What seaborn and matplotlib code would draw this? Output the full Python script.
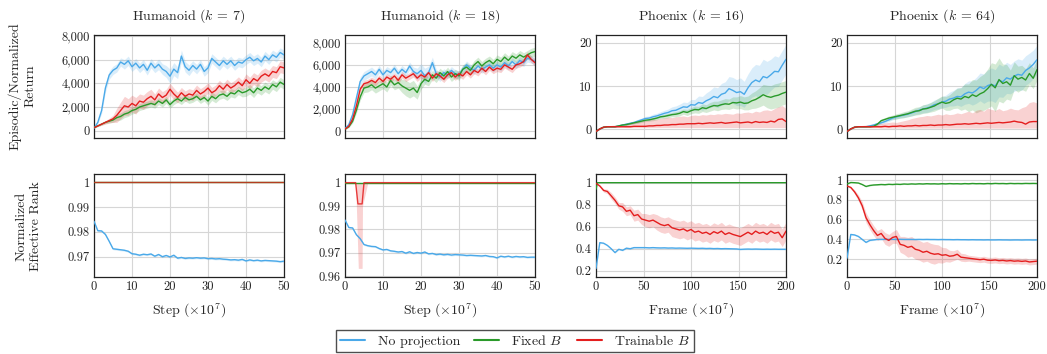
import numpy as np
import pandas as pd
import matplotlib
matplotlib.use("Agg")
import matplotlib.pyplot as plt
import seaborn as sns
from matplotlib.lines import Line2D
from matplotlib.ticker import FuncFormatter

# x grids (x 10^7)
steps = list(range(0, 51))
frames = list(range(0, 201, 4))

# ---------------- Humanoid (k = 7), episodic return ----------------
hk7_ret_none = [200, 700, 1700, 3600, 4700, 5100, 5300, 5800, 5600, 5900, 5400, 5700, 5300, 5600, 5100,
                5700, 5300, 5600, 5200, 5000, 4600, 5200, 4900, 6300, 5400, 5100, 5500, 5200, 5600, 5000,
                5300, 6100, 5800, 5500, 5900, 5600, 5900, 5500, 5800, 5700, 6000, 6200, 5900, 6100, 5800,
                6300, 6000, 6400, 6200, 6600, 6400]
hk7_ret_none_sd = [50, 100, 250, 350, 350, 350, 350, 350, 400, 400, 400, 400, 400, 400, 400, 400, 400,
                   450, 450, 500, 600, 550, 500, 500, 450, 450, 400, 400, 400, 400, 400, 400, 400, 400,
                   400, 400, 400, 400, 400, 400, 400, 400, 400, 400, 400, 400, 400, 400, 400, 400, 400]
hk7_ret_fixed = [250, 400, 550, 700, 800, 900, 1100, 1200, 1400, 1500, 1700, 1800, 2000, 2100, 2200,
                 2300, 2200, 2500, 2300, 2600, 2200, 2500, 2700, 2500, 2800, 2600, 2700, 2900, 2600, 2800,
                 2500, 2900, 2700, 3000, 3100, 2900, 3200, 3100, 3400, 3200, 3300, 3500, 3200, 3600, 3400,
                 3700, 3500, 3900, 3700, 4100, 3900]
hk7_ret_fixed_sd = [30, 50, 80, 100, 150, 200, 250, 300, 300, 300, 300, 300, 300, 300, 300, 300, 300,
                    300, 300, 300, 300, 300, 300, 300, 300, 300, 300, 300, 300, 300, 350, 350, 350, 350,
                    350, 350, 350, 350, 350, 350, 400, 400, 400, 400, 400, 400, 400, 400, 400, 400, 400]
hk7_ret_train = [250, 400, 550, 700, 850, 1000, 1300, 1700, 2100, 2000, 2300, 2100, 2500, 2400, 2700,
                 2900, 2600, 3100, 2800, 3000, 3500, 3100, 2800, 3200, 2900, 3100, 3000, 3400, 3100, 3300,
                 3600, 3200, 3400, 3800, 3500, 3900, 3600, 3800, 4100, 3800, 4300, 4000, 4400, 4200, 4600,
                 4800, 4600, 5000, 4900, 5400, 5300]
hk7_ret_train_sd = [30, 50, 100, 150, 200, 300, 600, 700, 800, 700, 700, 700, 600, 600, 600, 600, 500,
                    500, 500, 500, 500, 500, 450, 450, 450, 450, 450, 450, 450, 450, 450, 450, 450, 450,
                    450, 450, 450, 450, 450, 450, 500, 500, 500, 500, 500, 500, 500, 500, 500, 500, 500]

# ---------------- Humanoid (k = 18), episodic return ----------------
hk18_ret_none = [250, 600, 1500, 3000, 4500, 5000, 5200, 5400, 5100, 5600, 5100, 5500, 5300, 5700, 5200,
                 5600, 5300, 5900, 5400, 5200, 5500, 5000, 5300, 6200, 5200, 4900, 5300, 5100, 5500, 5200,
                 5100, 5600, 6000, 5700, 5500, 5900, 5600, 5800, 6000, 5700, 6000, 5800, 6200, 5900, 6300,
                 6000, 6400, 6200, 6600, 6500, 6300]
hk18_ret_none_sd = [50, 100, 200, 300, 400, 400, 400, 400, 400, 350, 350, 350, 350, 350, 350, 350, 350,
                    350, 400, 500, 600, 700, 600, 500, 400, 400, 350, 350, 350, 350, 350, 350, 350, 350,
                    350, 350, 350, 350, 350, 350, 350, 350, 350, 350, 350, 350, 350, 350, 350, 350, 350]
hk18_ret_fixed = [200, 400, 900, 1900, 3100, 3900, 4000, 4200, 3900, 4100, 4300, 4000, 4600, 4200, 4400,
                  4100, 3900, 3700, 3900, 3500, 4300, 4700, 4500, 5100, 4800, 5300, 5000, 5400, 4900, 5200,
                  5000, 5600, 5800, 5500, 6000, 6300, 5900, 6200, 6400, 6100, 6500, 6300, 6700, 6400, 6800,
                  6600, 6900, 6700, 6900, 7100, 7200]
hk18_ret_fixed_sd = [50, 80, 150, 250, 300, 400, 450, 450, 450, 450, 450, 450, 450, 450, 500, 600, 700,
                     700, 700, 600, 500, 450, 400, 400, 400, 400, 400, 400, 400, 400, 400, 400, 400, 400,
                     400, 400, 400, 400, 400, 400, 400, 400, 400, 400, 400, 400, 400, 400, 400, 400, 400]
hk18_ret_train = [200, 450, 1100, 2300, 3800, 4300, 4400, 4600, 4400, 4800, 4500, 4900, 4700, 5000, 4600,
                  5100, 4800, 5000, 5200, 4800, 5100, 4900, 5300, 4800, 5200, 5000, 4700, 5100, 5300, 4900,
                  5200, 5000, 5400, 5100, 5500, 5300, 5700, 5400, 5800, 5500, 5700, 5600, 6000, 5800, 5600,
                  6000, 6100, 6300, 6900, 6500, 6200]
hk18_ret_train_sd = [50, 80, 150, 250, 300, 300, 300, 300, 300, 300, 300, 300, 300, 300, 300, 300, 300,
                     300, 300, 300, 300, 300, 300, 300, 300, 300, 300, 300, 300, 300, 300, 300, 300, 300,
                     300, 300, 300, 300, 300, 300, 300, 300, 300, 300, 300, 300, 300, 300, 300, 300, 300]

# ---------------- Phoenix (k = 16), normalized return ----------------
pk16_ret_none = [-0.5, 0.1, 0.5, 0.6, 0.6, 0.6, 0.8, 1.0, 1.2, 1.4, 1.6, 1.9, 2.2, 2.5, 2.6, 2.9, 3.1,
                 3.4, 3.7, 3.9, 4.3, 4.4, 4.8, 5.2, 5.1, 5.7, 5.6, 6.2, 6.0, 6.6, 7.0, 7.6, 7.3, 8.1, 8.4,
                 9.4, 9.0, 8.5, 8.7, 8.1, 9.6, 10.8, 11.4, 11.0, 12.2, 11.9, 12.6, 13.4, 13.3, 14.8, 16.2]
pk16_ret_none_sd = [0.1, 0.1, 0.1, 0.1, 0.1, 0.1, 0.2, 0.2, 0.3, 0.3, 0.3, 0.4, 0.4, 0.5, 0.5, 0.6, 0.6,
                    0.7, 0.7, 0.8, 0.9, 1.0, 1.0, 1.1, 1.1, 1.2, 1.3, 1.5, 1.6, 1.8, 2.0, 2.2, 2.3, 2.5,
                    2.6, 2.8, 3.0, 3.0, 3.2, 3.0, 3.2, 3.4, 3.6, 3.8, 4.0, 3.8, 3.6, 3.6, 3.4, 3.4, 3.4]
pk16_ret_fixed = [-0.5, 0.1, 0.5, 0.6, 0.6, 0.6, 0.8, 1.0, 1.1, 1.3, 1.5, 1.7, 1.9, 2.1, 2.2, 2.4, 2.6,
                  2.9, 3.0, 3.2, 3.4, 3.5, 3.7, 4.1, 3.9, 4.3, 4.6, 4.5, 5.0, 4.8, 5.2, 5.5, 5.4, 5.7, 5.9,
                  5.8, 6.2, 6.1, 6.3, 6.0, 6.1, 6.6, 6.9, 7.4, 8.0, 7.6, 7.4, 7.7, 7.9, 8.3, 8.6]
pk16_ret_fixed_sd = [0.1, 0.1, 0.1, 0.1, 0.1, 0.1, 0.1, 0.2, 0.2, 0.2, 0.2, 0.3, 0.3, 0.3, 0.3, 0.4,
                     0.4, 0.4, 0.5, 0.5, 0.5, 0.6, 0.6, 0.6, 0.7, 0.7, 0.8, 0.8, 0.9, 0.9, 1.0, 1.0, 1.1,
                     1.1, 1.2, 1.2, 1.3, 1.4, 1.5, 1.5, 1.6, 1.8, 2.0, 2.2, 2.4, 2.6, 2.7, 2.8, 2.8, 2.7,
                     2.7]
pk16_ret_train = [-0.5, 0.1, 0.5, 0.6, 0.6, 0.6, 0.6, 0.6, 0.6, 0.6, 0.7, 0.7, 0.7, 0.7, 0.8, 0.8, 0.9,
                  0.9, 1.0, 1.0, 1.1, 1.1, 1.2, 1.2, 1.3, 1.3, 1.3, 1.4, 1.3, 1.4, 1.5, 1.4, 1.5, 1.6, 1.4,
                  1.5, 1.6, 1.7, 1.5, 1.6, 1.7, 1.5, 1.8, 1.6, 1.7, 1.6, 1.9, 1.7, 2.3, 2.4, 1.8]
pk16_ret_train_lo = [-0.6, 0.0, 0.4, 0.5, 0.5, 0.5, 0.5, 0.5, 0.4, 0.4, 0.4, 0.4, 0.4, 0.4, 0.4, 0.4,
                     0.4, 0.4, 0.4, 0.4, 0.4, 0.4, 0.4, 0.4, 0.4, 0.4, 0.4, 0.4, 0.4, 0.4, 0.4, 0.4, 0.4,
                     0.4, 0.4, 0.4, 0.4, 0.4, 0.4, 0.4, 0.4, 0.4, 0.4, 0.4, 0.4, 0.4, 0.4, 0.4, 0.4, 0.4,
                     0.4]
pk16_ret_train_hi = [-0.4, 0.2, 0.7, 0.8, 0.9, 1.0, 1.1, 1.3, 1.5, 1.6, 1.8, 1.9, 2.0, 2.1, 2.2, 2.4,
                     2.3, 2.5, 2.6, 2.8, 2.7, 2.9, 3.0, 3.1, 2.9, 3.2, 3.3, 3.2, 3.4, 3.3, 3.5, 3.4, 3.6,
                     3.5, 3.7, 3.6, 3.5, 3.8, 3.7, 3.9, 4.0, 3.8, 4.2, 4.0, 4.4, 4.5, 4.3, 4.8, 5.2, 5.5,
                     4.8]

# ---------------- Phoenix (k = 64), normalized return ----------------
pk64_ret_none = [-0.5, 0.1, 0.5, 0.6, 0.6, 0.6, 0.8, 1.0, 1.3, 1.5, 1.8, 2.2, 2.6, 2.9, 3.1, 3.3, 3.5,
                 3.8, 4.1, 4.4, 4.7, 4.9, 5.2, 5.7, 5.9, 6.3, 6.5, 7.0, 7.2, 7.6, 7.5, 8.2, 8.6, 8.4, 9.0,
                 9.8, 9.4, 10.1, 10.4, 10.0, 11.3, 11.0, 11.9, 11.6, 12.3, 12.7, 12.5, 13.6, 14.2, 15.0,
                 16.1]
pk64_ret_none_sd = [0.1, 0.1, 0.1, 0.1, 0.1, 0.1, 0.2, 0.2, 0.3, 0.3, 0.3, 0.4, 0.4, 0.5, 0.5, 0.6, 0.6,
                    0.7, 0.7, 0.8, 0.9, 1.0, 1.0, 1.1, 1.2, 1.3, 1.4, 1.6, 1.8, 2.0, 2.2, 2.4, 2.6, 2.8,
                    3.0, 3.2, 3.4, 3.6, 3.8, 3.8, 3.8, 3.6, 3.6, 3.4, 3.5, 3.6, 3.5, 3.4, 3.4, 3.3, 3.3]
pk64_ret_fixed = [-0.5, 0.1, 0.5, 0.6, 0.6, 0.6, 0.6, 0.7, 1.2, 2.0, 2.3, 2.6, 2.8, 3.0, 3.2, 3.4, 3.6,
                  3.9, 4.2, 4.3, 4.7, 4.8, 5.1, 5.4, 5.9, 6.3, 6.0, 6.2, 6.8, 7.2, 7.0, 7.6, 7.3, 8.0, 7.6,
                  8.2, 8.6, 9.4, 10.4, 9.6, 11.5, 10.6, 11.0, 10.2, 12.4, 11.6, 12.0, 11.4, 12.9, 11.8,
                  13.8]
pk64_ret_fixed_sd = [0.1, 0.1, 0.1, 0.1, 0.1, 0.1, 0.1, 0.1, 0.3, 0.4, 0.4, 0.5, 0.5, 0.6, 0.6, 0.7,
                     0.7, 0.8, 0.9, 0.9, 1.0, 1.0, 1.1, 1.2, 1.3, 1.4, 1.6, 1.8, 2.0, 2.3, 2.6, 2.9, 3.2,
                     3.5, 3.8, 4.0, 4.2, 4.5, 5.0, 5.5, 5.0, 4.5, 4.0, 3.5, 3.2, 3.0, 2.8, 2.6, 2.5, 2.4,
                     2.4]
pk64_ret_train = [-0.5, 0.1, 0.5, 0.6, 0.6, 0.6, 0.6, 0.6, 0.6, 0.6, 0.7, 0.6, 0.7, 0.7, 0.8, 0.7, 0.8,
                  0.8, 0.9, 0.8, 0.9, 0.9, 1.0, 0.9, 1.0, 1.0, 1.1, 1.0, 1.1, 1.2, 1.2, 1.3, 1.2, 1.3, 1.4,
                  1.3, 1.4, 1.5, 1.4, 1.5, 1.6, 1.5, 1.6, 1.7, 1.9, 1.7, 1.6, 1.2, 1.7, 1.8, 1.8]
pk64_ret_train_lo = [-0.6, 0.0, 0.4, 0.5, 0.5, 0.5, 0.4, 0.4, 0.4, 0.3, 0.3, 0.3, 0.3, 0.3, 0.3, 0.3,
                     0.3, 0.3, 0.3, 0.3, 0.3, 0.3, 0.3, 0.3, 0.3, 0.3, 0.3, 0.3, 0.3, 0.3, 0.3, 0.3, 0.3,
                     0.3, 0.3, 0.3, 0.3, 0.3, 0.3, 0.3, 0.3, 0.3, 0.3, 0.3, 0.3, 0.3, 0.3, 0.3, 0.3, 0.3,
                     0.3]
pk64_ret_train_hi = [-0.4, 0.2, 0.7, 0.8, 0.9, 1.0, 1.1, 1.2, 1.3, 1.4, 1.5, 1.6, 1.7, 1.6, 1.8, 2.0,
                     2.2, 2.5, 2.7, 2.9, 3.0, 3.2, 3.1, 3.3, 3.5, 3.3, 3.6, 3.4, 3.5, 3.8, 3.6, 3.9, 4.2,
                     3.8, 4.4, 4.6, 4.2, 4.9, 4.6, 4.4, 4.8, 4.3, 4.5, 4.9, 4.6, 4.5, 5.0, 5.3, 6.2, 6.4,
                     6.1]

# ---------------- Humanoid, normalized effective rank ----------------
hk7_rank_none = [0.9843, 0.9805, 0.9804, 0.9790, 0.9762, 0.9732, 0.9730, 0.9728, 0.9726, 0.9722, 0.9712,
                 0.9710, 0.9706, 0.9710, 0.9708, 0.9711, 0.9702, 0.9709, 0.9700, 0.9705, 0.9699, 0.9706,
                 0.9694, 0.9697, 0.9693, 0.9695, 0.9694, 0.9696, 0.9694, 0.9695, 0.9692, 0.9693, 0.9691,
                 0.9692, 0.9690, 0.9689, 0.9687, 0.9688, 0.9686, 0.9689, 0.9683, 0.9687, 0.9684, 0.9686,
                 0.9683, 0.9685, 0.9684, 0.9683, 0.9682, 0.9680, 0.9682]
hk18_rank_none = [0.9840, 0.9808, 0.9806, 0.9777, 0.9760, 0.9735, 0.9730, 0.9727, 0.9726, 0.9718, 0.9712,
                  0.9714, 0.9708, 0.9706, 0.9703, 0.9705, 0.9698, 0.9704, 0.9697, 0.9701, 0.9698, 0.9703,
                  0.9695, 0.9697, 0.9692, 0.9694, 0.9691, 0.9693, 0.9690, 0.9692, 0.9691, 0.9690, 0.9688,
                  0.9689, 0.9688, 0.9687, 0.9686, 0.9688, 0.9684, 0.9683, 0.9678, 0.9685, 0.9682, 0.9685,
                  0.9681, 0.9684, 0.9682, 0.9683, 0.9680, 0.9681, 0.9681]
h_rank_none_sd = 0.0004
h_rank_flat_x = [0, 50]
h_rank_flat = [1.0, 1.0]
hk18_rank_train_x = [0, 2.8, 3.4, 4.5, 5.0, 50]
hk18_rank_train = [1.0, 1.0, 0.9909, 0.9909, 1.0, 1.0]
hk18_rank_band_x = [2.8, 3.5, 4.5, 4.6, 6.0]
hk18_rank_band_lo = [1.0, 0.9633, 0.9633, 0.9900, 1.0]

# ---------------- Phoenix, normalized effective rank ----------------
pk16_rank_none = [0.22, 0.455, 0.45, 0.43, 0.40, 0.365, 0.395, 0.385, 0.405, 0.40, 0.41, 0.41, 0.41,
                  0.41, 0.408, 0.41, 0.408, 0.407, 0.408, 0.406, 0.407, 0.405, 0.406, 0.405, 0.404, 0.405,
                  0.404, 0.403, 0.404, 0.402, 0.403, 0.401, 0.402, 0.400, 0.401, 0.400, 0.399, 0.398,
                  0.394, 0.396, 0.397, 0.396, 0.397, 0.396, 0.395, 0.396, 0.395, 0.396, 0.395, 0.395, 0.395]
pk16_rank_fixed_x = [0, 1.5, 200]
pk16_rank_fixed = [0.94, 1.0, 1.0]
pk16_rank_train = [0.995, 0.97, 0.93, 0.92, 0.88, 0.84, 0.79, 0.78, 0.74, 0.75, 0.70, 0.71, 0.67, 0.66,
                   0.65, 0.66, 0.64, 0.62, 0.61, 0.62, 0.59, 0.58, 0.57, 0.58, 0.56, 0.575, 0.55, 0.56,
                   0.54, 0.55, 0.53, 0.555, 0.54, 0.56, 0.53, 0.545, 0.53, 0.52, 0.51, 0.53, 0.55, 0.53,
                   0.56, 0.54, 0.55, 0.53, 0.56, 0.54, 0.55, 0.50, 0.56]
pk16_rank_train_sd = [0.005, 0.01, 0.015, 0.02, 0.03, 0.03, 0.03, 0.04, 0.04, 0.04, 0.05, 0.05, 0.05,
                      0.06, 0.06, 0.06, 0.07, 0.07, 0.07, 0.07, 0.08, 0.08, 0.08, 0.08, 0.08, 0.08, 0.08,
                      0.08, 0.08, 0.08, 0.08, 0.08, 0.08, 0.08, 0.08, 0.08, 0.08, 0.08, 0.08, 0.08, 0.08,
                      0.08, 0.08, 0.08, 0.08, 0.08, 0.08, 0.08, 0.08, 0.08, 0.08]
pk64_rank_none = [0.21, 0.45, 0.445, 0.43, 0.40, 0.37, 0.39, 0.395, 0.40, 0.40, 0.401, 0.400, 0.401,
                  0.400, 0.401, 0.400, 0.400, 0.400, 0.399, 0.400, 0.399, 0.400, 0.399, 0.399, 0.398,
                  0.399, 0.398, 0.398, 0.397, 0.398, 0.397, 0.397, 0.396, 0.397, 0.396, 0.396, 0.395,
                  0.396, 0.395, 0.395, 0.396, 0.395, 0.395, 0.394, 0.395, 0.395, 0.394, 0.395, 0.395,
                  0.394, 0.395]
pk64_rank_fixed = [0.96, 0.975, 0.973, 0.97, 0.955, 0.935, 0.945, 0.95, 0.952, 0.955, 0.953, 0.957,
                   0.955, 0.958, 0.956, 0.96, 0.958, 0.961, 0.959, 0.962, 0.96, 0.963, 0.961, 0.962, 0.96,
                   0.963, 0.961, 0.964, 0.962, 0.963, 0.961, 0.964, 0.962, 0.965, 0.963, 0.964, 0.962,
                   0.965, 0.963, 0.966, 0.964, 0.965, 0.963, 0.966, 0.964, 0.965, 0.964, 0.966, 0.965,
                   0.966, 0.965]
pk64_rank_train = [0.94, 0.925, 0.88, 0.82, 0.74, 0.62, 0.55, 0.49, 0.44, 0.46, 0.41, 0.39, 0.42, 0.43,
                   0.35, 0.34, 0.32, 0.33, 0.30, 0.29, 0.27, 0.28, 0.26, 0.25, 0.255, 0.24, 0.245, 0.23,
                   0.235, 0.25, 0.22, 0.215, 0.21, 0.205, 0.20, 0.195, 0.20, 0.19, 0.188, 0.192, 0.185,
                   0.188, 0.182, 0.186, 0.18, 0.183, 0.178, 0.182, 0.172, 0.176, 0.18]
pk64_rank_train_sd = [0.005, 0.01, 0.02, 0.03, 0.04, 0.05, 0.05, 0.05, 0.05, 0.05, 0.06, 0.06, 0.06,
                      0.07, 0.08, 0.09, 0.1, 0.1, 0.1, 0.1, 0.1, 0.1, 0.1, 0.1, 0.09, 0.08, 0.07, 0.06,
                      0.05, 0.05, 0.04, 0.04, 0.03, 0.03, 0.03, 0.03, 0.03, 0.03, 0.03, 0.03, 0.03, 0.03,
                      0.03, 0.03, 0.03, 0.03, 0.03, 0.03, 0.03, 0.03, 0.03]
p_rank_none_sd = 0.006

titles = ["Humanoid ($k$ = 7)", "Humanoid ($k$ = 18)", "Phoenix ($k$ = 16)", "Phoenix ($k$ = 64)"]
methods = ["No projection", "Fixed $B$", "Trainable $B$"]
colors = {"No projection": "#4aa9e9", "Fixed $B$": "#2a9a2a", "Trainable $B$": "#e41e1e"}

sns.set_style("whitegrid")
plt.rcParams["font.family"] = ["cmr10", "DejaVu Serif"]
plt.rcParams["mathtext.fontset"] = "cm"
plt.rcParams["axes.formatter.use_mathtext"] = True

fig = plt.figure(figsize=(10.47, 3.54), dpi=100)
W, H = 1047, 354
lefts = [94, 345, 596, 847]
axes = [[fig.add_axes([l / W, 1 - 138 / H, 190 / W, 103 / H]) for l in lefts],
        [fig.add_axes([l / W, 1 - 277 / H, 190 / W, 103 / H]) for l in lefts]]


def band(ax, x, lo, hi, m):
    ax.fill_between(x, lo, hi, color=colors[m], alpha=0.2, lw=0, zorder=2)


def line(ax, x, y, m, alpha=1.0):
    sns.lineplot(x=x, y=y, ax=ax, color=colors[m], lw=1.0, errorbar=None, zorder=3, alpha=alpha)


def sd_band(ax, x, y, sd, m):
    y = np.array(y)
    band(ax, x, y - np.array(sd), y + np.array(sd), methods[m])


# top row: returns
top = [
    (steps, [(hk7_ret_none, hk7_ret_none_sd), (hk7_ret_fixed, hk7_ret_fixed_sd), (hk7_ret_train, hk7_ret_train_sd)]),
    (steps, [(hk18_ret_none, hk18_ret_none_sd), (hk18_ret_fixed, hk18_ret_fixed_sd), (hk18_ret_train, hk18_ret_train_sd)]),
    (frames, [(pk16_ret_none, pk16_ret_none_sd), (pk16_ret_fixed, pk16_ret_fixed_sd), (pk16_ret_train, None)]),
    (frames, [(pk64_ret_none, pk64_ret_none_sd), (pk64_ret_fixed, pk64_ret_fixed_sd), (pk64_ret_train, None)]),
]
for c, (x, series) in enumerate(top):
    ax = axes[0][c]
    for m, (y, sd) in enumerate(series):
        if sd is not None:
            sd_band(ax, x, y, sd, m)
    if c == 2:
        band(ax, x, pk16_ret_train_lo, pk16_ret_train_hi, methods[2])
    if c == 3:
        band(ax, x, pk64_ret_train_lo, pk64_ret_train_hi, methods[2])
    for m, (y, sd) in enumerate(series):
        line(ax, x, y, methods[m])

# bottom row: effective rank
ax = axes[1][0]
sd_band(ax, steps, hk7_rank_none, [h_rank_none_sd] * len(steps), 0)
line(ax, steps, hk7_rank_none, methods[0])
line(ax, h_rank_flat_x, h_rank_flat, methods[1])
line(ax, h_rank_flat_x, h_rank_flat, methods[2], alpha=0.75)

ax = axes[1][1]
sd_band(ax, steps, hk18_rank_none, [h_rank_none_sd] * len(steps), 0)
band(ax, hk18_rank_band_x, hk18_rank_band_lo, [1.0] * len(hk18_rank_band_x), methods[2])
line(ax, steps, hk18_rank_none, methods[0])
line(ax, h_rank_flat_x, h_rank_flat, methods[1])
line(ax, hk18_rank_train_x, hk18_rank_train, methods[2], alpha=0.85)

ax = axes[1][2]
sd_band(ax, frames, pk16_rank_none, [p_rank_none_sd] * len(frames), 0)
sd_band(ax, frames, pk16_rank_train, pk16_rank_train_sd, 2)
line(ax, frames, pk16_rank_none, methods[0])
line(ax, pk16_rank_fixed_x, pk16_rank_fixed, methods[1])
line(ax, frames, pk16_rank_train, methods[2])

ax = axes[1][3]
sd_band(ax, frames, pk64_rank_none, [p_rank_none_sd] * len(frames), 0)
sd_band(ax, frames, pk64_rank_fixed, [0.005] * len(frames), 1)
sd_band(ax, frames, pk64_rank_train, pk64_rank_train_sd, 2)
line(ax, frames, pk64_rank_none, methods[0])
line(ax, frames, pk64_rank_fixed, methods[1])
line(ax, frames, pk64_rank_train, methods[2])

# axes styling
top_ylims = [(-620, 8080), (-610, 8700), (-2.0, 21.8), (-2.0, 21.8)]
top_yticks = [[0, 2000, 4000, 6000, 8000], [0, 2000, 4000, 6000, 8000], [0, 10, 20], [0, 10, 20]]
bot_ylims = [(0.9618, 1.0034), (0.9596, 1.0037), (0.143, 1.079), (0.02, 1.061)]
bot_yticks = [[0.97, 0.98, 0.99, 1.0], [0.96, 0.97, 0.98, 0.99, 1.0], [0.2, 0.4, 0.6, 0.8, 1.0],
              [0.2, 0.4, 0.6, 0.8, 1.0]]
xlabels = ["Step ($\\times 10^7$)", "Step ($\\times 10^7$)", "Frame ($\\times 10^7$)", "Frame ($\\times 10^7$)"]

comma = FuncFormatter(lambda v, p: f"{int(v):,}")
plain = FuncFormatter(lambda v, p: f"{round(v, 3):g}")

for c in range(4):
    xmax = 50 if c < 2 else 200
    xt = list(range(0, 51, 10)) if c < 2 else list(range(0, 201, 50))
    for r in range(2):
        ax = axes[r][c]
        ax.set_xlim(0, xmax)
        ax.set_xticks(xt)
        ax.grid(True, color="#d6d6d6", lw=0.8)
        ax.set_axisbelow(True)
        ax.set_facecolor("white")
        for s in ax.spines.values():
            s.set_visible(True)
            s.set_color("#222222")
            s.set_linewidth(0.9)
        ax.tick_params(labelsize=9, length=0, pad=3, colors="#222222")
        ax.set_ylabel("")
        ax.set_xlabel("")
    axes[0][c].set_ylim(*top_ylims[c])
    axes[0][c].set_yticks(top_yticks[c])
    axes[0][c].yaxis.set_major_formatter(comma if c < 2 else plain)
    axes[0][c].tick_params(labelbottom=False)
    axes[0][c].set_title(titles[c], fontsize=10, pad=11)
    axes[1][c].set_ylim(*bot_ylims[c])
    axes[1][c].set_yticks(bot_yticks[c])
    axes[1][c].yaxis.set_major_formatter(plain)
    axes[1][c].xaxis.set_major_formatter(plain)
    axes[1][c].set_xlabel(xlabels[c], fontsize=10, labelpad=6)

fig.text(22 / W, 1 - 86 / H, "Episodic/Normalized\nReturn", rotation=90, ha="center", va="center",
         fontsize=10, multialignment="center", linespacing=1.3)
fig.text(29 / W, 1 - 226 / H, "Normalized\nEffective Rank", rotation=90, ha="center", va="center",
         fontsize=10, multialignment="center", linespacing=1.3)

handles = [Line2D([0], [0], color=colors[m], lw=1.5) for m in methods]
fig.legend(handles, methods, loc="center", bbox_to_anchor=(515 / W, 1 - 341 / H), ncol=3,
           frameon=True, fancybox=False, edgecolor="#222222", fontsize=10, handlelength=1.8,
           columnspacing=1.0, borderpad=0.3, handletextpad=0.9)

fig.savefig("out.png", dpi=100)
